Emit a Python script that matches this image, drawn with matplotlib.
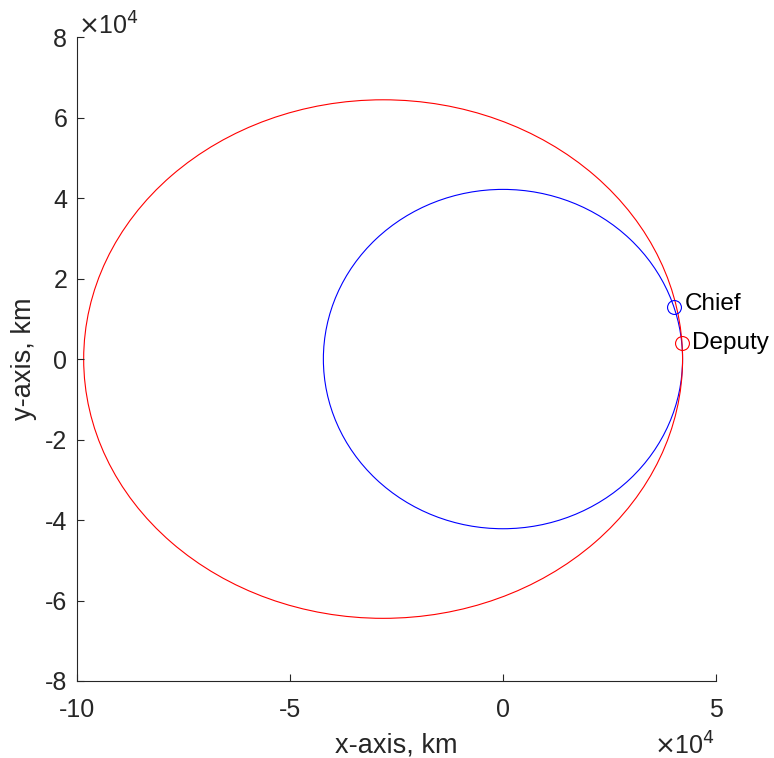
import numpy as np
import matplotlib.pyplot as plt
from matplotlib.patches import Ellipse
from matplotlib.ticker import FuncFormatter

plt.rcParams['font.family'] = ['Liberation Sans', 'DejaVu Sans']

# Orbit geometry (km): centre x, centre y, semi-axis x, semi-axis y
chief_orbit = [0.0, 0.0, 42164.0, 42164.0]
deputy_orbit = [-28136.0, 0.0, 70300.0, 64430.0]

# Current positions (km)
chief_pos = [40142.0, 12900.0]
deputy_pos = [42028.0, 4000.0]

x_ticks = [-10e4, -5e4, 0, 5e4]
y_ticks = [-8e4, -6e4, -4e4, -2e4, 0, 2e4, 4e4, 6e4, 8e4]

axcol = '#262626'

fig = plt.figure(figsize=(7.74, 7.58), dpi=100)
ax = fig.add_axes([0.0995, 0.1016, 0.8255, 0.8494])

for orb, col in [(chief_orbit, 'blue'), (deputy_orbit, 'red')]:
    ax.add_patch(Ellipse((orb[0], orb[1]), 2 * orb[2], 2 * orb[3],
                         fill=False, edgecolor=col, linewidth=0.8))

ax.plot(chief_pos[0], chief_pos[1], 'o', mfc='none', mec='blue', ms=10, mew=0.8)
ax.plot(deputy_pos[0], deputy_pos[1], 'o', mfc='none', mec='red', ms=10, mew=0.8)
ax.text(chief_pos[0] + 2600, chief_pos[1] + 700, 'Chief', fontsize=17.5, va='center', color='black')
ax.text(deputy_pos[0] + 2400, deputy_pos[1], 'Deputy', fontsize=17.5, va='center', color='black')

ax.set_xlim(-10e4, 5e4)
ax.set_ylim(-8e4, 8e4)
ax.set_xticks(x_ticks)
ax.set_yticks(y_ticks)
fmt = FuncFormatter(lambda v, p: f'{v / 1e4:g}')
ax.xaxis.set_major_formatter(fmt)
ax.yaxis.set_major_formatter(fmt)

ax.spines['top'].set_visible(False)
ax.spines['right'].set_visible(False)
for s in ['left', 'bottom']:
    ax.spines[s].set_color(axcol)
    ax.spines[s].set_linewidth(0.8)
ax.tick_params(direction='in', length=5, width=0.8, colors=axcol, labelsize=18)
ax.tick_params(axis='x', pad=12)
ax.tick_params(axis='y', pad=7)

ax.set_xlabel('x-axis, km', fontsize=19.5, color=axcol, labelpad=8)
ax.set_ylabel('y-axis, km', fontsize=19.5, color=axcol, labelpad=6)

fig.text(0.101, 0.966, r'$\times$10$^4$', fontsize=18, color=axcol, va='center')
fig.text(0.845, 0.016, r'$\times$10$^4$', fontsize=18, color=axcol, va='center')

fig.savefig('out.png', dpi=100)
